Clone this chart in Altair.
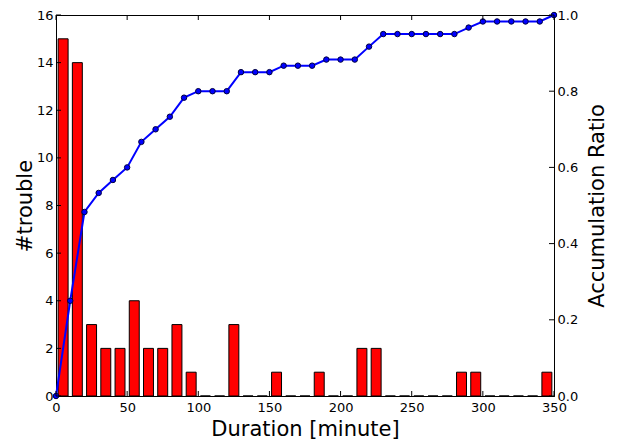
import altair as alt
import pandas as pd

# bar data: bin centers (minutes) and counts
bin_centers = [5, 15, 25, 35, 45, 55, 65, 75, 85, 95, 105, 115, 125, 135, 145, 155, 165, 175,
               185, 195, 205, 215, 225, 235, 245, 255, 265, 275, 285, 295, 305, 315, 325, 335, 345]
counts = [15, 14, 3, 2, 2, 4, 2, 2, 3, 1, 0, 0, 3, 0, 0, 1, 0, 0,
          1, 0, 0, 2, 2, 0, 0, 0, 0, 0, 1, 1, 0, 0, 0, 0, 1]

# accumulation ratio line
line_x = list(range(0, 351, 10))
ratio = [0.0, 0.25, 0.483, 0.533, 0.567, 0.6, 0.667, 0.7, 0.733, 0.783, 0.8, 0.8, 0.8,
         0.85, 0.85, 0.85, 0.867, 0.867, 0.867, 0.883, 0.883, 0.883, 0.917, 0.95, 0.95,
         0.95, 0.95, 0.95, 0.95, 0.967, 0.983, 0.983, 0.983, 0.983, 0.983, 1.0]

x_ticks = [0, 50, 100, 150, 200, 250, 300, 350]
left_ticks = [0, 2, 4, 6, 8, 10, 12, 14, 16]
right_ticks = [0.0, 0.2, 0.4, 0.6, 0.8, 1.0]

W, H = 498, 381
FONT = "DejaVu Sans"
TL = 5  # tick length

bars_df = pd.DataFrame({"center": bin_centers, "count": counts})
line_df = pd.DataFrame({"x": line_x, "ratio": ratio})
xt_df = pd.DataFrame({"x": x_ticks})
lt_df = pd.DataFrame({"y": left_ticks})
rt_df = pd.DataFrame({"y": right_ticks})

xscale = alt.Scale(domain=[0, 350], nice=False, zero=False)
lscale = alt.Scale(domain=[0, 16], nice=False)
rscale = alt.Scale(domain=[0, 1], nice=False)

xaxis = alt.Axis(values=x_ticks, title="Duration [minute]", tickSize=0, labelPadding=5,
                 labelFlush=False, labelOverlap=False, grid=False, format="d",
                 labelFontSize=13, titleFontSize=21, titlePadding=4)


def xenc(field):
    return alt.X(f"{field}:Q", scale=xscale, axis=xaxis)


bars = alt.Chart(bars_df).transform_calculate(
    x0="datum.center - 3.5", x1="datum.center + 3.5"
).mark_bar(color="#ff0000", stroke="black", strokeWidth=1).encode(
    x=xenc("x0"),
    x2="x1:Q",
    y=alt.Y("count:Q", scale=lscale,
            axis=alt.Axis(values=left_ticks, title="#trouble", tickSize=0, labelPadding=3,
                          labelOverlap=False, grid=False, labelFontSize=13,
                          titleFontSize=21, titlePadding=1, format="d")),
    y2=alt.datum(0),
)

left_t = alt.Chart(lt_df).mark_rule(color="black", strokeWidth=1).encode(
    x=alt.value(0), x2=alt.value(TL), y=alt.Y("y:Q", scale=lscale, axis=None))

line = alt.Chart(line_df).mark_line(
    color="#0000ff", strokeWidth=2,
    point=alt.OverlayMarkDef(filled=True, fill="#0000ff", stroke="#000040", strokeWidth=1, size=30),
).encode(
    x=xenc("x"),
    y=alt.Y("ratio:Q", scale=rscale,
            axis=alt.Axis(orient="right", values=right_ticks, title="Accumulation Ratio",
                          tickSize=0, labelPadding=3, labelOverlap=False, grid=False,
                          labelFontSize=13, titleFontSize=21, titlePadding=9,
                          titleAngle=270, titleBaseline="top", format=".1f")),
)

right_t = alt.Chart(rt_df).mark_rule(color="black", strokeWidth=1).encode(
    x=alt.value(W - TL), x2=alt.value(W), y=alt.Y("y:Q", scale=rscale, axis=None))

bottom_t = alt.Chart(xt_df).mark_rule(color="black", strokeWidth=1).encode(
    x=xenc("x"), y=alt.value(H - TL), y2=alt.value(H))
top_t = alt.Chart(xt_df).mark_rule(color="black", strokeWidth=1).encode(
    x=xenc("x"), y=alt.value(0), y2=alt.value(TL))

chart = alt.layer(
    bars, line, left_t, right_t, bottom_t, top_t,
).resolve_scale(y="independent").properties(
    width=W, height=H,
    autosize=alt.AutoSizeParams(type="none"),
    padding={"left": 48, "top": 7, "right": 54, "bottom": 45},
).configure_axis(
    labelFont=FONT, titleFont=FONT, labelColor="black", titleColor="black",
    domainColor="black", domainWidth=1, titleFontWeight="normal",
).configure_view(stroke="black", strokeWidth=1)

chart.save("out.html", embed_options={"renderer": "svg", "actions": False})
